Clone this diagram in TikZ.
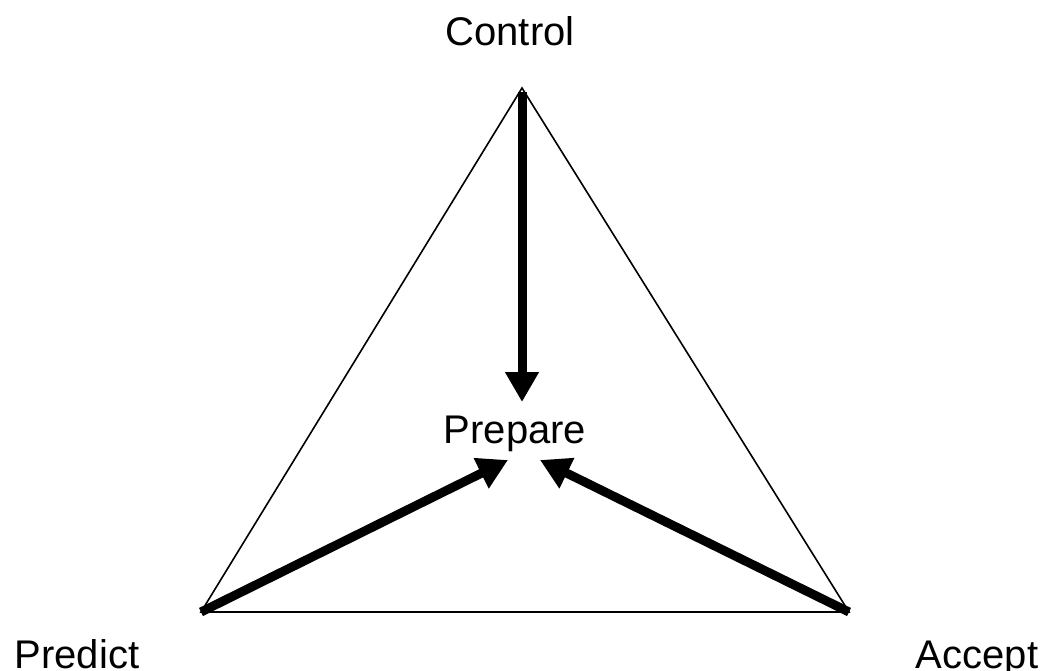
\documentclass[tikz,border=0pt]{standalone}
\usepackage{fontspec}
\setmainfont{Liberation Sans}
\usetikzlibrary{arrows.meta, positioning}

\begin{document}
\begin{tikzpicture}[
    x=1pt, y=-1pt,
    label/.style={font=\fontsize{40}{48}\selectfont, inner sep=0pt, anchor=base},
    edge/.style={line width=1.6pt},
    arrow/.style={line width=9pt, -{Triangle[length=30pt, width=32pt]}}
]
\useasboundingbox (0,0) rectangle (1043,670);
% corners of the triangle
\coordinate (ctl) at (522,88);
\coordinate (prd) at (201,612);
\coordinate (acc) at (849,612);
\draw[edge, line join=miter] (ctl) -- (prd) -- (acc) -- cycle;
% labels
\node[label] (control) at (510,45) {Control};
\node[label] (prepare) at (515,443) {Prepare};
\node[label] (predict) at (77,668) {Predict};
\node[label] (accept) at (977,668) {Accept};
% arrow ends round the centre
\coordinate (top end) at (522,402);
\coordinate (left end) at (508,460);
\coordinate (right end) at (540,460);
\draw[arrow] (ctl) ++(0,4) -- (top end);
\draw[arrow] (prd) -- (left end);
\draw[arrow] (acc) -- (right end);
\end{tikzpicture}
\end{document}
